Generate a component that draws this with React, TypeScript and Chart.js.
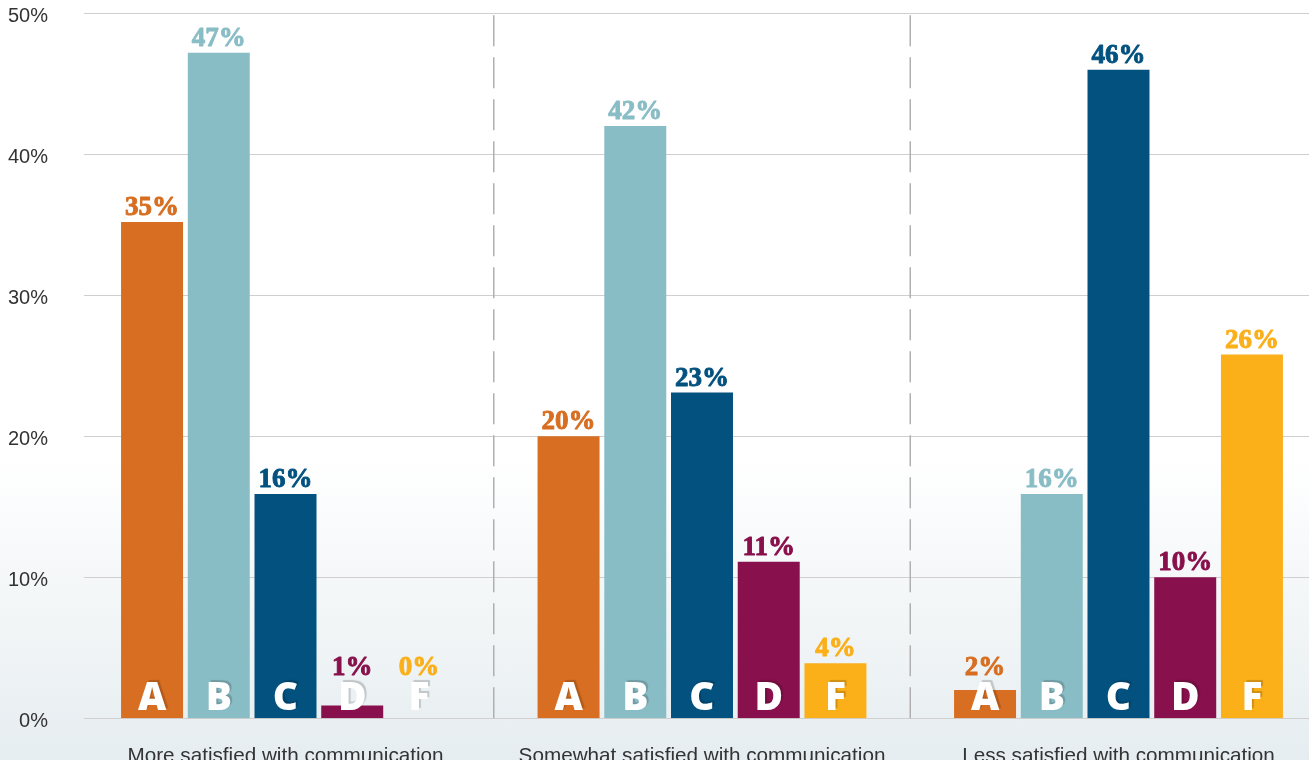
import React, { useEffect, useRef } from "react";
import { Chart, registerables } from "chart.js";

Chart.register(...registerables);

const categories = [
  "More satisfied with communication",
  "Somewhat satisfied with communication",
  "Less satisfied with communication",
];
const seriesNames = ["A", "B", "C", "D", "F"];
const gradeA = [35.2, 20.0, 2.0];
const gradeB = [47.2, 42.0, 15.9];
const gradeC = [15.9, 23.1, 46.0];
const gradeD = [0.9, 11.1, 10.0];
const gradeF = [0, 3.9, 25.8];
const yTickValues = [0, 10, 20, 30, 40, 50];
const seriesColors = ["#D76E21", "#89BDC6", "#02517F", "#88104C", "#FBAF19"];

const CANVAS_W = 1340;
const CANVAS_H = 790;

const gridPlugin = {
  id: "customGrid",
  beforeDatasetsDraw(chart: any) {
    const { ctx, scales } = chart;
    const x = scales.x;
    const y = scales.y;
    ctx.save();
    ctx.lineWidth = 1;
    ctx.strokeStyle = "#cfcfcf";
    yTickValues.forEach((v) => {
      const py = Math.round(y.getPixelForValue(v)) + 0.5;
      ctx.beginPath();
      ctx.moveTo(84, py);
      ctx.lineTo(chart.width, py);
      ctx.stroke();
    });
    ctx.setLineDash([31, 11]);
    ctx.strokeStyle = "#b0b0b0";
    ctx.lineWidth = 1.5;
    for (let i = 0; i < categories.length - 1; i++) {
      const px = (x.getPixelForValue(i) + x.getPixelForValue(i + 1)) / 2;
      ctx.beginPath();
      ctx.moveTo(px, y.getPixelForValue(50) + 2);
      ctx.lineTo(px, y.getPixelForValue(0));
      ctx.stroke();
    }
    ctx.restore();
  },
};

const labelPlugin = {
  id: "barLabels",
  afterDatasetsDraw(chart: any) {
    const { ctx } = chart;
    chart.data.datasets.forEach((ds: any, di: number) => {
      const meta = chart.getDatasetMeta(di);
      meta.data.forEach((bar: any, i: number) => {
        const v = ds.data[i];
        const bx = bar.x;
        const top = bar.y;
        const base = bar.base;
        ctx.save();
        ctx.font = '800 39px "Open Sans"';
        ctx.textAlign = "center";
        ctx.textBaseline = "alphabetic";
        ctx.shadowColor = "rgba(0,0,0,0.18)";
        ctx.shadowOffsetX = 2;
        ctx.shadowOffsetY = -2;
        ctx.shadowBlur = 1;
        ctx.fillStyle = "#ffffff";
        ctx.fillText(seriesNames[di], bx, base - 8);
        ctx.restore();

        ctx.save();
        ctx.font = 'bold 27px "Liberation Serif"';
        ctx.textAlign = "center";
        ctx.textBaseline = "alphabetic";
        ctx.fillStyle = seriesColors[di];
        ctx.strokeStyle = seriesColors[di];
        ctx.lineWidth = 0.9;
        ctx.lineJoin = "round";
        const ly = Math.min(top - 7, base - 43);
        const txt = `${Math.round(v)}%`;
        ctx.fillText(txt, bx, ly);
        ctx.strokeText(txt, bx, ly);
        ctx.restore();
      });
    });
  },
};

export default function App() {
  const canvasRef = useRef<HTMLCanvasElement | null>(null);

  useEffect(() => {
    if (!canvasRef.current) return;
    const seriesData = [gradeA, gradeB, gradeC, gradeD, gradeF];
    const chart = new Chart(canvasRef.current, {
      type: "bar",
      data: {
        labels: categories,
        datasets: seriesNames.map((name, i) => ({
          label: name,
          data: seriesData[i],
          backgroundColor: seriesColors[i],
          borderWidth: 0,
          categoryPercentage: 0.801,
          barPercentage: 0.929,
        })),
      },
      options: {
        responsive: false,
        animation: false,
        layout: { padding: { top: 13.3, right: CANVAS_W - 1326.75, left: 0, bottom: 0 } },
        plugins: {
          legend: { display: false },
          tooltip: { enabled: false },
          title: { display: false },
        },
        scales: {
          x: {
            grid: { display: false, drawTicks: false },
            border: { display: false },
            ticks: {
              padding: 26,
              color: "#333333",
              font: { family: '"Liberation Sans", Arial, sans-serif', size: 20.7 },
              maxRotation: 0,
              autoSkip: false,
            },
            afterFit: (scale: any) => {
              scale.height = CANVAS_H - 718.3;
            },
          },
          y: {
            min: 0,
            max: 50,
            grid: { display: false, drawTicks: false },
            border: { display: false },
            ticks: {
              stepSize: 10,
              padding: 29.25,
              labelOffset: 3,
              color: "#333333",
              font: { family: '"Liberation Sans", Arial, sans-serif', size: 20 },
              callback: (v: any) => `${v}%`,
            },
            afterFit: (scale: any) => {
              scale.width = 77.25;
              scale.paddingTop = 0;
              scale.paddingBottom = 0;
            },
          },
        },
      },
      plugins: [gridPlugin, labelPlugin],
    });
    return () => chart.destroy();
  }, []);

  return (
    <div
      style={{
        position: "fixed",
        left: 0,
        top: 0,
        width: 1309,
        height: 760,
        overflow: "hidden",
        background:
          "linear-gradient(to bottom, #ffffff 0%, #ffffff 60%, #f4f7f8 78%, #e6edf0 100%)",
      }}
    >
      <canvas
        ref={canvasRef}
        width={CANVAS_W}
        height={CANVAS_H}
        style={{ position: "absolute", left: 0, top: 0 }}
      />
    </div>
  );
}
